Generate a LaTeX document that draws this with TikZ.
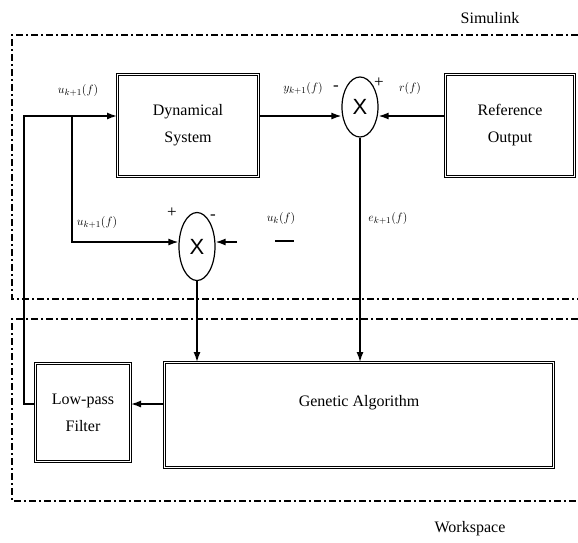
\documentclass[tikz,border=0pt]{standalone}
\usepackage{amsmath}
\usepackage{fontspec}
\setmainfont{Liberation Serif}
\setsansfont{Liberation Sans}
\usetikzlibrary{calc,arrows.meta,shapes.geometric}
\tikzset{
  blockbox/.style={draw, line width=1pt, double, double distance=1.4pt, align=center, inner sep=0pt, font=\fontsize{16}{27}\selectfont},
  sumnode/.style={draw, ellipse, line width=1.2pt, inner sep=0pt, minimum width=36pt, minimum height=60pt, font=\fontsize{22}{22}\selectfont\sffamily},
  sig/.style={line width=1.4pt},
  arr/.style={sig, -{Latex[length=10pt,width=7pt]}},
  bound/.style={line width=1.2pt, dash pattern=on 7pt off 3pt on 2pt off 3pt},
  lbl/.style={font=\fontsize{13}{15}\selectfont},
  sgn/.style={font=\fontsize{17}{17}\selectfont},
  txt/.style={font=\fontsize{16}{18}\selectfont}
}

\begin{document}
\begin{tikzpicture}[x=1pt,y=-1pt]
\useasboundingbox (0,0) rectangle (578,542);
% regions
\draw[bound] (578,35) -- (12,35) -- (12,299) -- (578,299);
\draw[bound] (578,319) -- (12,319) -- (12,501) -- (578,501);
\path (490,18) node[txt]{Simulink};
\path (470,529) node[txt]{Workspace};
% blocks
\node[blockbox, minimum width=141, minimum height=102] (dyn) at (188,125.5) {Dynamical\\System};
\node[blockbox, minimum width=129, minimum height=102] (ref) at (510,125.5) {Reference\\Output};
\node[blockbox, minimum width=95, minimum height=98] (lpf) at (83,412.5) {Low-pass\\Filter};
\node[blockbox, minimum width=389, minimum height=105] (ga) at (359,415) {};
\path (ga.north) ++(0,41) node[txt]{Genetic Algorithm};
\node[sumnode] (sum1) at (360,107) {X};
\node[sumnode, minimum height=68] (sum2) at (197,246.5) {X};
% signal lines
\coordinate (line1) at (0,116);
\coordinate (line2) at (0,242);
\coordinate (line3) at (0,404);
\coordinate (fbtop) at (24,116);
\coordinate (brtop) at (72,116);
\coordinate (ukin) at (237,242);
\coordinate (uka) at (275,241);
\coordinate (ukb) at (294,241);
\draw[arr] (lpf.west |- line3) -| (fbtop) -- (dyn.west |- line1);
\draw[arr] (brtop) |- (sum2.west |- line2);
\draw[arr] (dyn.east |- line1) -- (sum1.west |- line1);
\draw[arr] (ref.west |- line1) -- (sum1.east |- line1);
\draw[arr] (ukin) -- (sum2.east |- line2);
\draw[sig] (uka) -- (ukb);
\draw[arr] (sum1.south) -- (sum1.south |- ga.north);
\draw[arr] (sum2.south) -- (sum2.south |- ga.north);
\draw[arr] (ga.west |- line3) -- (lpf.east |- line3);
% labels
\path (78,90) node[lbl]{$u_{k+1}(f)$};
\path (97,222) node[lbl]{$u_{k+1}(f)$};
\path (303,88) node[lbl]{$y_{k+1}(f)$};
\path (410,88) node[lbl]{$r(f)$};
\path (281,218) node[lbl]{$u_k(f)$};
\path (388,218) node[lbl]{$e_{k+1}(f)$};
\path (336,88) node[sgn]{-};
\path (379,83) node[sgn]{+};
\path (172,213) node[sgn]{+};
\path (213,217) node[sgn]{-};
\end{tikzpicture}
\end{document}
